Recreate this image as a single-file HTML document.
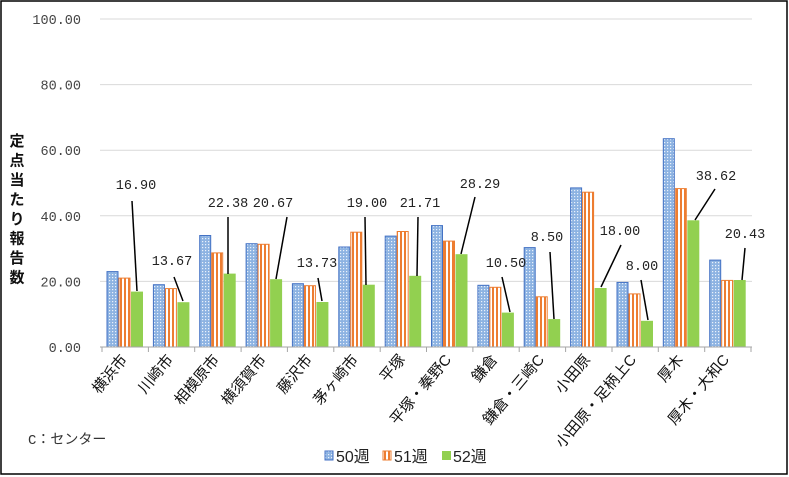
<!DOCTYPE html>
<html><head><meta charset="utf-8"><style>
html,body{margin:0;padding:0;background:#fff;}
svg{display:block;}
text{font-family:"Liberation Sans","Noto Sans CJK JP",sans-serif;}
.t, .t text{font-family:"Liberation Mono","DejaVu Sans Mono","Noto Sans CJK JP",monospace;}
.t{font-size:13px;fill:#444;}
.x{font-size:15px;fill:#111;}
</style></head><body>
<svg width="789" height="477" viewBox="0 0 789 477" xmlns="http://www.w3.org/2000/svg">
<defs>
<pattern id="pb" width="3" height="3" patternUnits="userSpaceOnUse"><rect width="3" height="3" fill="#8db3e2"/><rect x="1" y="1" width="1.2" height="1.2" fill="#eaf1fb"/></pattern>
<pattern id="po" width="4" height="4" patternUnits="userSpaceOnUse"><rect width="4" height="4" fill="#fff"/><rect x="0" width="2" height="4" fill="#ed7d31"/></pattern>
</defs>
<rect x="1" y="1" width="786" height="473" fill="#fff" stroke="#000" stroke-width="1.5"/>
<g stroke="#d9d9d9" stroke-width="1">
<line x1="100" y1="19" x2="752" y2="19"/><line x1="100" y1="84.6" x2="752" y2="84.6"/><line x1="100" y1="150.2" x2="752" y2="150.2"/><line x1="100" y1="215.8" x2="752" y2="215.8"/><line x1="100" y1="281.4" x2="752" y2="281.4"/>
</g>
<g class="t" text-anchor="end" style="font-size:13.5px">
<text x="81" y="24">100.00</text><text x="81" y="89.6">80.00</text><text x="81" y="155.2">60.00</text><text x="81" y="220.8">40.00</text><text x="81" y="286.4">20.00</text><text x="81" y="352">0.00</text>
</g>
<g font-size="15" font-weight="bold" fill="#111" text-anchor="middle">
<text x="17" y="146">定</text><text x="17" y="165.5">点</text><text x="17" y="185">当</text><text x="17" y="204.5">た</text><text x="17" y="224">り</text><text x="17" y="243.5">報</text><text x="17" y="263">告</text><text x="17" y="282.5">数</text>
</g>
<g stroke="#4472c4" stroke-width="1" fill="url(#pb)">
<rect x="107" y="271.6" width="11" height="75.4"/><rect x="153.4" y="284.7" width="11" height="62.3"/><rect x="199.7" y="235.5" width="11" height="111.5"/><rect x="246.1" y="243.7" width="11" height="103.3"/><rect x="292.4" y="283.7" width="11" height="63.3"/><rect x="338.8" y="247" width="11" height="100"/><rect x="385.2" y="236.1" width="11" height="110.9"/><rect x="431.5" y="225.6" width="11" height="121.4"/><rect x="477.9" y="285.3" width="11" height="61.7"/><rect x="524.2" y="247.6" width="11" height="99.4"/><rect x="570.6" y="187.9" width="11" height="159.1"/><rect x="617" y="282.4" width="11" height="64.6"/><rect x="663.3" y="138.7" width="11" height="208.3"/><rect x="709.7" y="260.1" width="11" height="86.9"/>
</g>
<g stroke="#ed7d31" stroke-width="1" fill="url(#po)">
<rect x="119" y="278.1" width="11" height="68.9"/><rect x="165.4" y="288.6" width="11" height="58.4"/><rect x="211.7" y="252.9" width="11" height="94.1"/><rect x="258.1" y="244.3" width="11" height="102.7"/><rect x="304.4" y="285.7" width="11" height="61.3"/><rect x="350.8" y="232.2" width="11" height="114.8"/><rect x="397.2" y="231.5" width="11" height="115.5"/><rect x="443.5" y="241.1" width="11" height="105.9"/><rect x="489.9" y="287.3" width="11" height="59.7"/><rect x="536.2" y="296.8" width="11" height="50.2"/><rect x="582.6" y="192.2" width="11" height="154.8"/><rect x="629" y="293.9" width="11" height="53.1"/><rect x="675.3" y="188.6" width="11" height="158.4"/><rect x="721.7" y="280.4" width="11" height="66.6"/>
</g>
<g fill="#92d050">
<rect x="131" y="291.6" width="12" height="55.4"/><rect x="177.4" y="302.2" width="12" height="44.8"/><rect x="223.7" y="273.6" width="12" height="73.4"/><rect x="270.1" y="279.2" width="12" height="67.8"/><rect x="316.4" y="302" width="12" height="45"/><rect x="362.8" y="284.7" width="12" height="62.3"/><rect x="409.2" y="275.8" width="12" height="71.2"/><rect x="455.5" y="254.2" width="12" height="92.8"/><rect x="501.9" y="312.6" width="12" height="34.4"/><rect x="548.2" y="319.1" width="12" height="27.9"/><rect x="594.6" y="288" width="12" height="59"/><rect x="641" y="320.8" width="12" height="26.2"/><rect x="687.3" y="220.3" width="12" height="126.7"/><rect x="733.7" y="280" width="12" height="67"/>
</g>
<g stroke="#a6a6a6" stroke-width="1">
<line x1="100" y1="347" x2="752" y2="347"/>
<line x1="102" y1="347" x2="102" y2="352"/><line x1="148.4" y1="347" x2="148.4" y2="352"/><line x1="194.7" y1="347" x2="194.7" y2="352"/><line x1="241.1" y1="347" x2="241.1" y2="352"/><line x1="287.4" y1="347" x2="287.4" y2="352"/><line x1="333.8" y1="347" x2="333.8" y2="352"/><line x1="380.2" y1="347" x2="380.2" y2="352"/><line x1="426.5" y1="347" x2="426.5" y2="352"/><line x1="472.9" y1="347" x2="472.9" y2="352"/><line x1="519.2" y1="347" x2="519.2" y2="352"/><line x1="565.6" y1="347" x2="565.6" y2="352"/><line x1="612" y1="347" x2="612" y2="352"/><line x1="658.3" y1="347" x2="658.3" y2="352"/><line x1="704.7" y1="347" x2="704.7" y2="352"/><line x1="751" y1="347" x2="751" y2="352"/>
</g>
<g stroke="#000" stroke-width="1.5">
<line x1="132" y1="201" x2="137" y2="291"/><line x1="174" y1="277" x2="183" y2="301"/><line x1="228" y1="217" x2="228" y2="274"/><line x1="287" y1="217" x2="276" y2="279"/><line x1="318" y1="278" x2="322" y2="301"/><line x1="365" y1="217" x2="366" y2="285"/><line x1="418" y1="217" x2="417" y2="276"/><line x1="475" y1="197" x2="461" y2="254"/><line x1="502" y1="277" x2="510" y2="312"/><line x1="550" y1="252" x2="554" y2="319"/><line x1="621" y1="245" x2="601" y2="287"/><line x1="641" y1="280" x2="648" y2="320"/><line x1="715" y1="189" x2="695" y2="220"/><line x1="745" y1="248" x2="742" y2="280"/>
</g>
<g class="t" text-anchor="middle" style="fill:#222;font-size:13.5px">
<text x="136" y="189">16.90</text><text x="172" y="265">13.67</text><text x="228" y="207">22.38</text><text x="273" y="207">20.67</text><text x="317" y="267">13.73</text><text x="367" y="207">19.00</text><text x="420" y="207">21.71</text><text x="480" y="188">28.29</text><text x="506" y="267">10.50</text><text x="547" y="241">8.50</text><text x="620" y="235">18.00</text><text x="642" y="270">8.00</text><text x="716" y="180">38.62</text><text x="745" y="238">20.43</text>
</g>
<g class="x" text-anchor="end">
<text transform="translate(128,360) rotate(-50)">横浜市</text>
<text transform="translate(174,360) rotate(-50)">川崎市</text>
<text transform="translate(220,360) rotate(-50)">相模原市</text>
<text transform="translate(267,360) rotate(-50)">横須賀市</text>
<text transform="translate(313,360) rotate(-50)">藤沢市</text>
<text transform="translate(359,360) rotate(-50)">茅ヶ崎市</text>
<text transform="translate(406,360) rotate(-50)">平塚</text>
<text transform="translate(452,360) rotate(-50)">平塚・秦野C</text>
<text transform="translate(498,360) rotate(-50)">鎌倉</text>
<text transform="translate(545,360) rotate(-50)">鎌倉・三崎C</text>
<text transform="translate(591,360) rotate(-50)">小田原</text>
<text transform="translate(637,360) rotate(-50)">小田原・足柄上C</text>
<text transform="translate(684,360) rotate(-50)">厚木</text>
<text transform="translate(730,360) rotate(-50)">厚木・大和C</text>
</g>
<g class="t" style="font-size:14px;fill:#333"><text x="28" y="444">C：センター</text></g>
<g font-size="16" fill="#222">
<rect x="325" y="451" width="8" height="9" fill="url(#pb)" stroke="#4472c4"/>
<text x="336" y="462">50週</text>
<rect x="383" y="451" width="8" height="9" fill="url(#po)" stroke="#ed7d31"/>
<text x="394" y="462">51週</text>
<rect x="442" y="451" width="9" height="9" fill="#92d050"/>
<text x="453" y="462">52週</text>
</g>
</svg>
</body></html>
